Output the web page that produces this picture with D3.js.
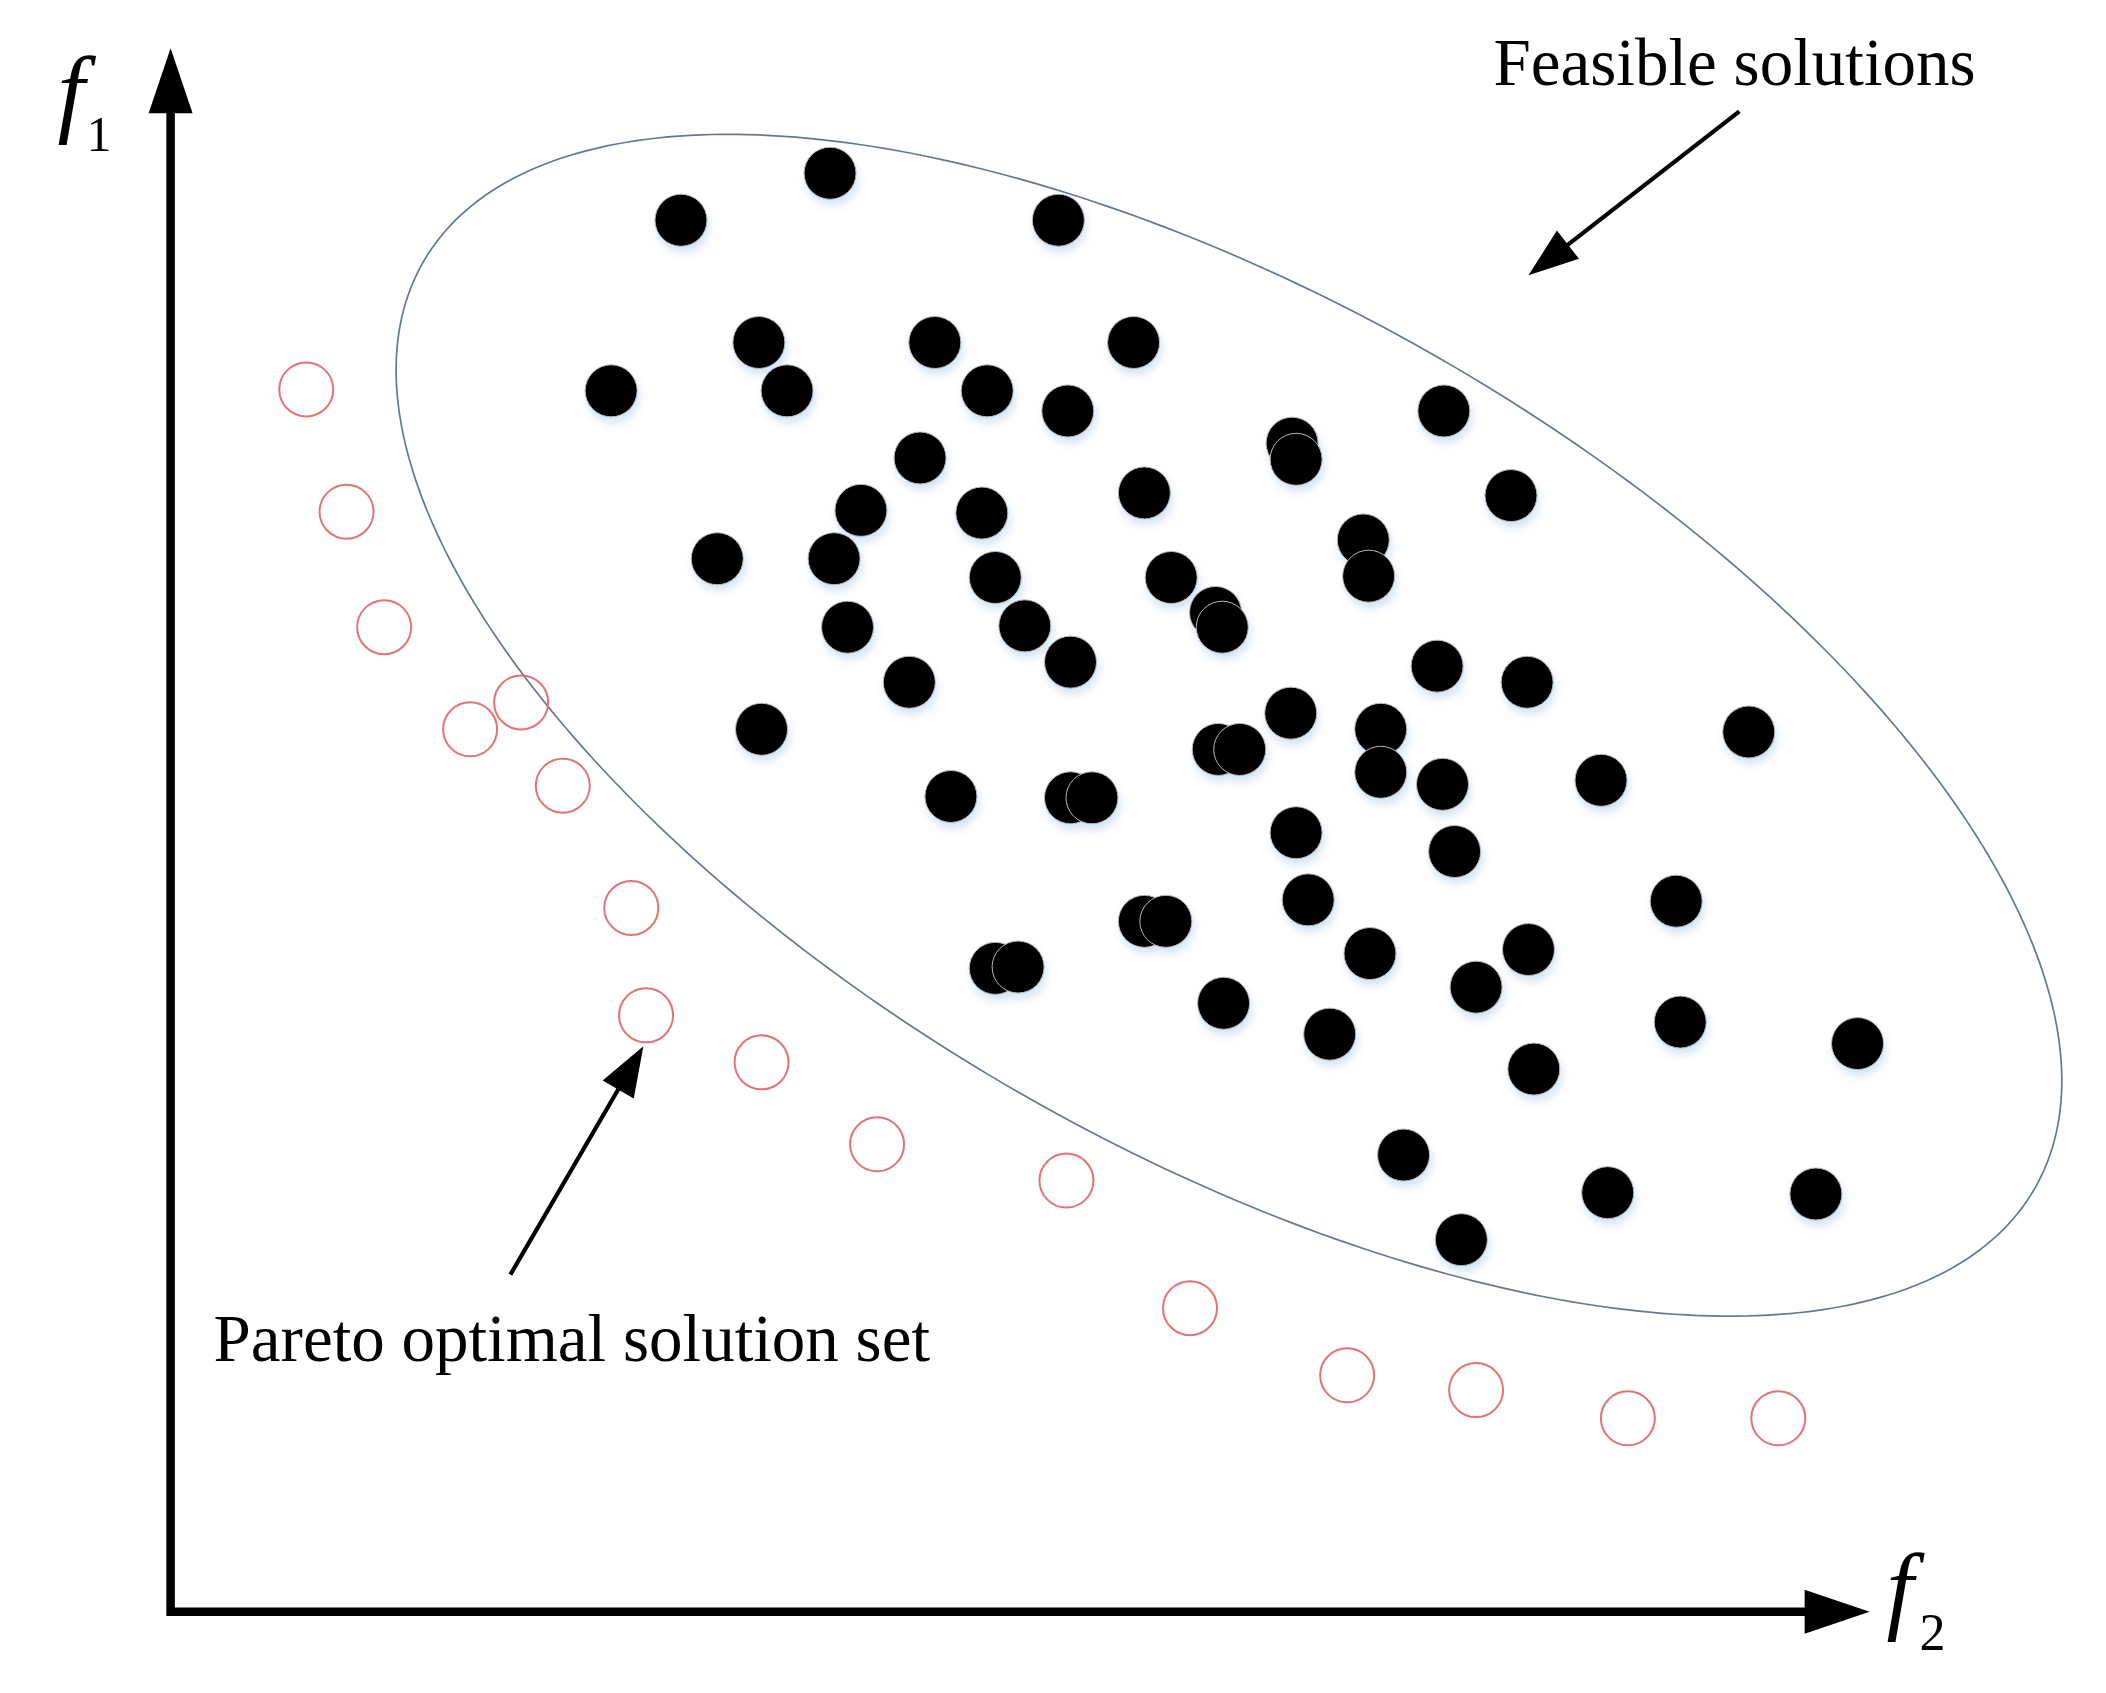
<!DOCTYPE html>
<html>
<head>
<meta charset="utf-8">
<script src="https://cdn.jsdelivr.net/npm/d3@7"></script>
<style>
  html, body { margin: 0; padding: 0; background: #ffffff; }
  svg { display: block; }
</style>
</head>
<body>
<div id="chart"></div>
<script>
// ---------------- DATA (values in objective-space units) ----------------
// Feasible solutions: [f2, f1]
const feasibleF2 = [491,380,661,438,569,717,328,459,608,668,948,835,838,558,998,725,514,604,407,494,
                    888,892,614,745,778,783,504,636,550,670,943,1010,440,834,901,780,796,1175,901,947,
                    1065,581,670,686,838,956,847,725,741,1121,614,631,893,1011,784,972,863,1124,1256,1015,
                    918,1070,1225,961];
const feasibleF1 = [1071,1036,1036,945,945,945,909,909,909,894,894,870,858,859,831,833,820,818,784,784,
                    798,771,770,770,744,733,733,734,692,707,704,692,657,669,657,642,642,655,625,616,
                    619,607,606,606,580,566,530,514,514,529,479,480,490,493,453,465,430,439,423,404,
                    340,312,311,277];
// Pareto optimal solution set: [f2, f1]
const paretoF2 = [101,131,159,223,261,292,343,354,440,526,667,759,876,972,1085,1197];
const paretoF1 = [910,819,733,657,677,615,524,444,409,348,321,226,176,165,144,144];

// Region of feasible solutions (ellipse): centre, semi-axes, tilt (degrees)
const regionCentre = [788, 660];
const regionSemiAxes = [692, 315];
const regionTilt = -29.9;

// Axis extents (arrow tips)
const axisMax = { f2: 1265, f1: 1164 };

// Annotations: [fromF2, fromF1, toF2, toF1]
const annotationLabels = ["Feasible solutions", "Pareto optimal solution set"];
const annotationArrows = [[1168, 1117, 1011, 995], [253, 251, 352, 421]];
const annotationTextAt = [[985, 1137], [32, 187]];

const axisNames = ["f", "f"];
const axisSubs = ["1", "2"];

// ---------------- DRAWING ----------------
const W = 2106, H = 1693;
const K = 1.3431;
const x0 = 170.6, y0 = 1611.7;
const x = d3.scaleLinear().domain([0, 1000]).range([x0, x0 + 1000 * K]);
const y = d3.scaleLinear().domain([0, 1000]).range([y0, y0 - 1000 * K]);

const svg = d3.select("#chart").append("svg")
  .attr("width", W).attr("height", H)
  .attr("viewBox", `0 0 ${W} ${H}`);

svg.append("rect").attr("width", W).attr("height", H).attr("fill", "#ffffff");

const defs = svg.append("defs");
const f = defs.append("filter").attr("id", "shadow")
  .attr("x", "-50%").attr("y", "-50%").attr("width", "200%").attr("height", "200%");
f.append("feDropShadow").attr("dx", 2).attr("dy", 6).attr("stdDeviation", 4)
  .attr("flood-color", "#9fc3e6").attr("flood-opacity", 0.45);

const serif = "'Liberation Serif', 'Times New Roman', serif";

// Ellipse (feasible region)
const phi = regionTilt * Math.PI / 180;
const ellPts = d3.range(0, 360).map(i => {
  const t = i * Math.PI / 180;
  const a = regionSemiAxes[0] * Math.cos(t), b = regionSemiAxes[1] * Math.sin(t);
  return [regionCentre[0] + a * Math.cos(phi) - b * Math.sin(phi),
          regionCentre[1] + a * Math.sin(phi) + b * Math.cos(phi)];
});
svg.append("path")
  .attr("d", d3.line().x(d => x(d[0])).y(d => y(d[1])).curve(d3.curveLinearClosed)(ellPts))
  .attr("fill", "none").attr("stroke", "#66788e").attr("stroke-width", 1.7);

// Pareto circles
const pareto = paretoF2.map((v, i) => [v, paretoF1[i]]);
svg.append("g").selectAll("circle").data(pareto).join("circle")
  .attr("cx", d => x(d[0])).attr("cy", d => y(d[1])).attr("r", 27)
  .attr("fill", "none").attr("stroke", "#e27474").attr("stroke-width", 2);

// Feasible dots
const feasible = feasibleF2.map((v, i) => [v, feasibleF1[i]]);
svg.append("g").attr("filter", "url(#shadow)").selectAll("circle").data(feasible).join("circle")
  .attr("cx", d => x(d[0])).attr("cy", d => y(d[1])).attr("r", 26)
  .attr("fill", "#000000").attr("stroke", "#b8b8b8").attr("stroke-width", 1);

// Axes
const axisW = 8.5, headL = 65, headHW = 22;
const tipY = y(axisMax.f1), tipX = x(axisMax.f2);
svg.append("path")
  .attr("d", `M${x(0)},${tipY + headL - 2} L${x(0)},${y(0)} L${tipX - headL + 2},${y(0)}`)
  .attr("fill", "none").attr("stroke", "#000").attr("stroke-width", axisW)
  .attr("stroke-linejoin", "miter").attr("stroke-linecap", "butt");
svg.append("path")
  .attr("d", `M${x(0)},${tipY} L${x(0) - headHW},${tipY + headL} L${x(0) + headHW},${tipY + headL} Z`)
  .attr("fill", "#000");
svg.append("path")
  .attr("d", `M${tipX},${y(0)} L${tipX - headL},${y(0) - headHW} L${tipX - headL},${y(0) + headHW} Z`)
  .attr("fill", "#000");

// Axis labels
const lab1 = svg.append("g");
lab1.append("text").attr("x", x(0) - 113).attr("y", tipY + 76)
  .attr("font-family", serif).attr("font-style", "italic").attr("font-size", 98)
  .attr("fill", "#000").text(axisNames[0]);
lab1.append("text").attr("x", x(0) - 84).attr("y", tipY + 103)
  .attr("font-family", serif).attr("font-size", 50)
  .attr("fill", "#000").text(axisSubs[0]);
const lab2 = svg.append("g");
lab2.append("text").attr("x", tipX + 17).attr("y", y(0) + 9)
  .attr("font-family", serif).attr("font-style", "italic").attr("font-size", 97)
  .attr("fill", "#000").text(axisNames[1]);
lab2.append("text").attr("x", tipX + 50).attr("y", y(0) + 38)
  .attr("font-family", serif).attr("font-size", 52)
  .attr("fill", "#000").text(axisSubs[1]);

// Annotation arrows
const aHeadL = 50, aHeadHW = 18;
annotationArrows.forEach(a => {
  const xa = x(a[0]), ya = y(a[1]), xb = x(a[2]), yb = y(a[3]);
  const dx = xb - xa, dy = yb - ya, len = Math.hypot(dx, dy);
  const ux = dx / len, uy = dy / len;
  const bx = xb - ux * aHeadL, by = yb - uy * aHeadL;
  svg.append("line").attr("x1", xa).attr("y1", ya)
    .attr("x2", bx + ux * 4).attr("y2", by + uy * 4)
    .attr("stroke", "#000").attr("stroke-width", 4.2);
  svg.append("path")
    .attr("d", `M${xb},${yb} L${bx - uy * aHeadHW},${by + ux * aHeadHW} L${bx + uy * aHeadHW},${by - ux * aHeadHW} Z`)
    .attr("fill", "#000");
});

// Annotation texts
annotationLabels.forEach((t, i) => {
  svg.append("text")
    .attr("x", x(annotationTextAt[i][0])).attr("y", y(annotationTextAt[i][1]))
    .attr("font-family", serif).attr("font-size", 67).attr("fill", "#000")
    .text(t);
});
</script>
</body>
</html>
